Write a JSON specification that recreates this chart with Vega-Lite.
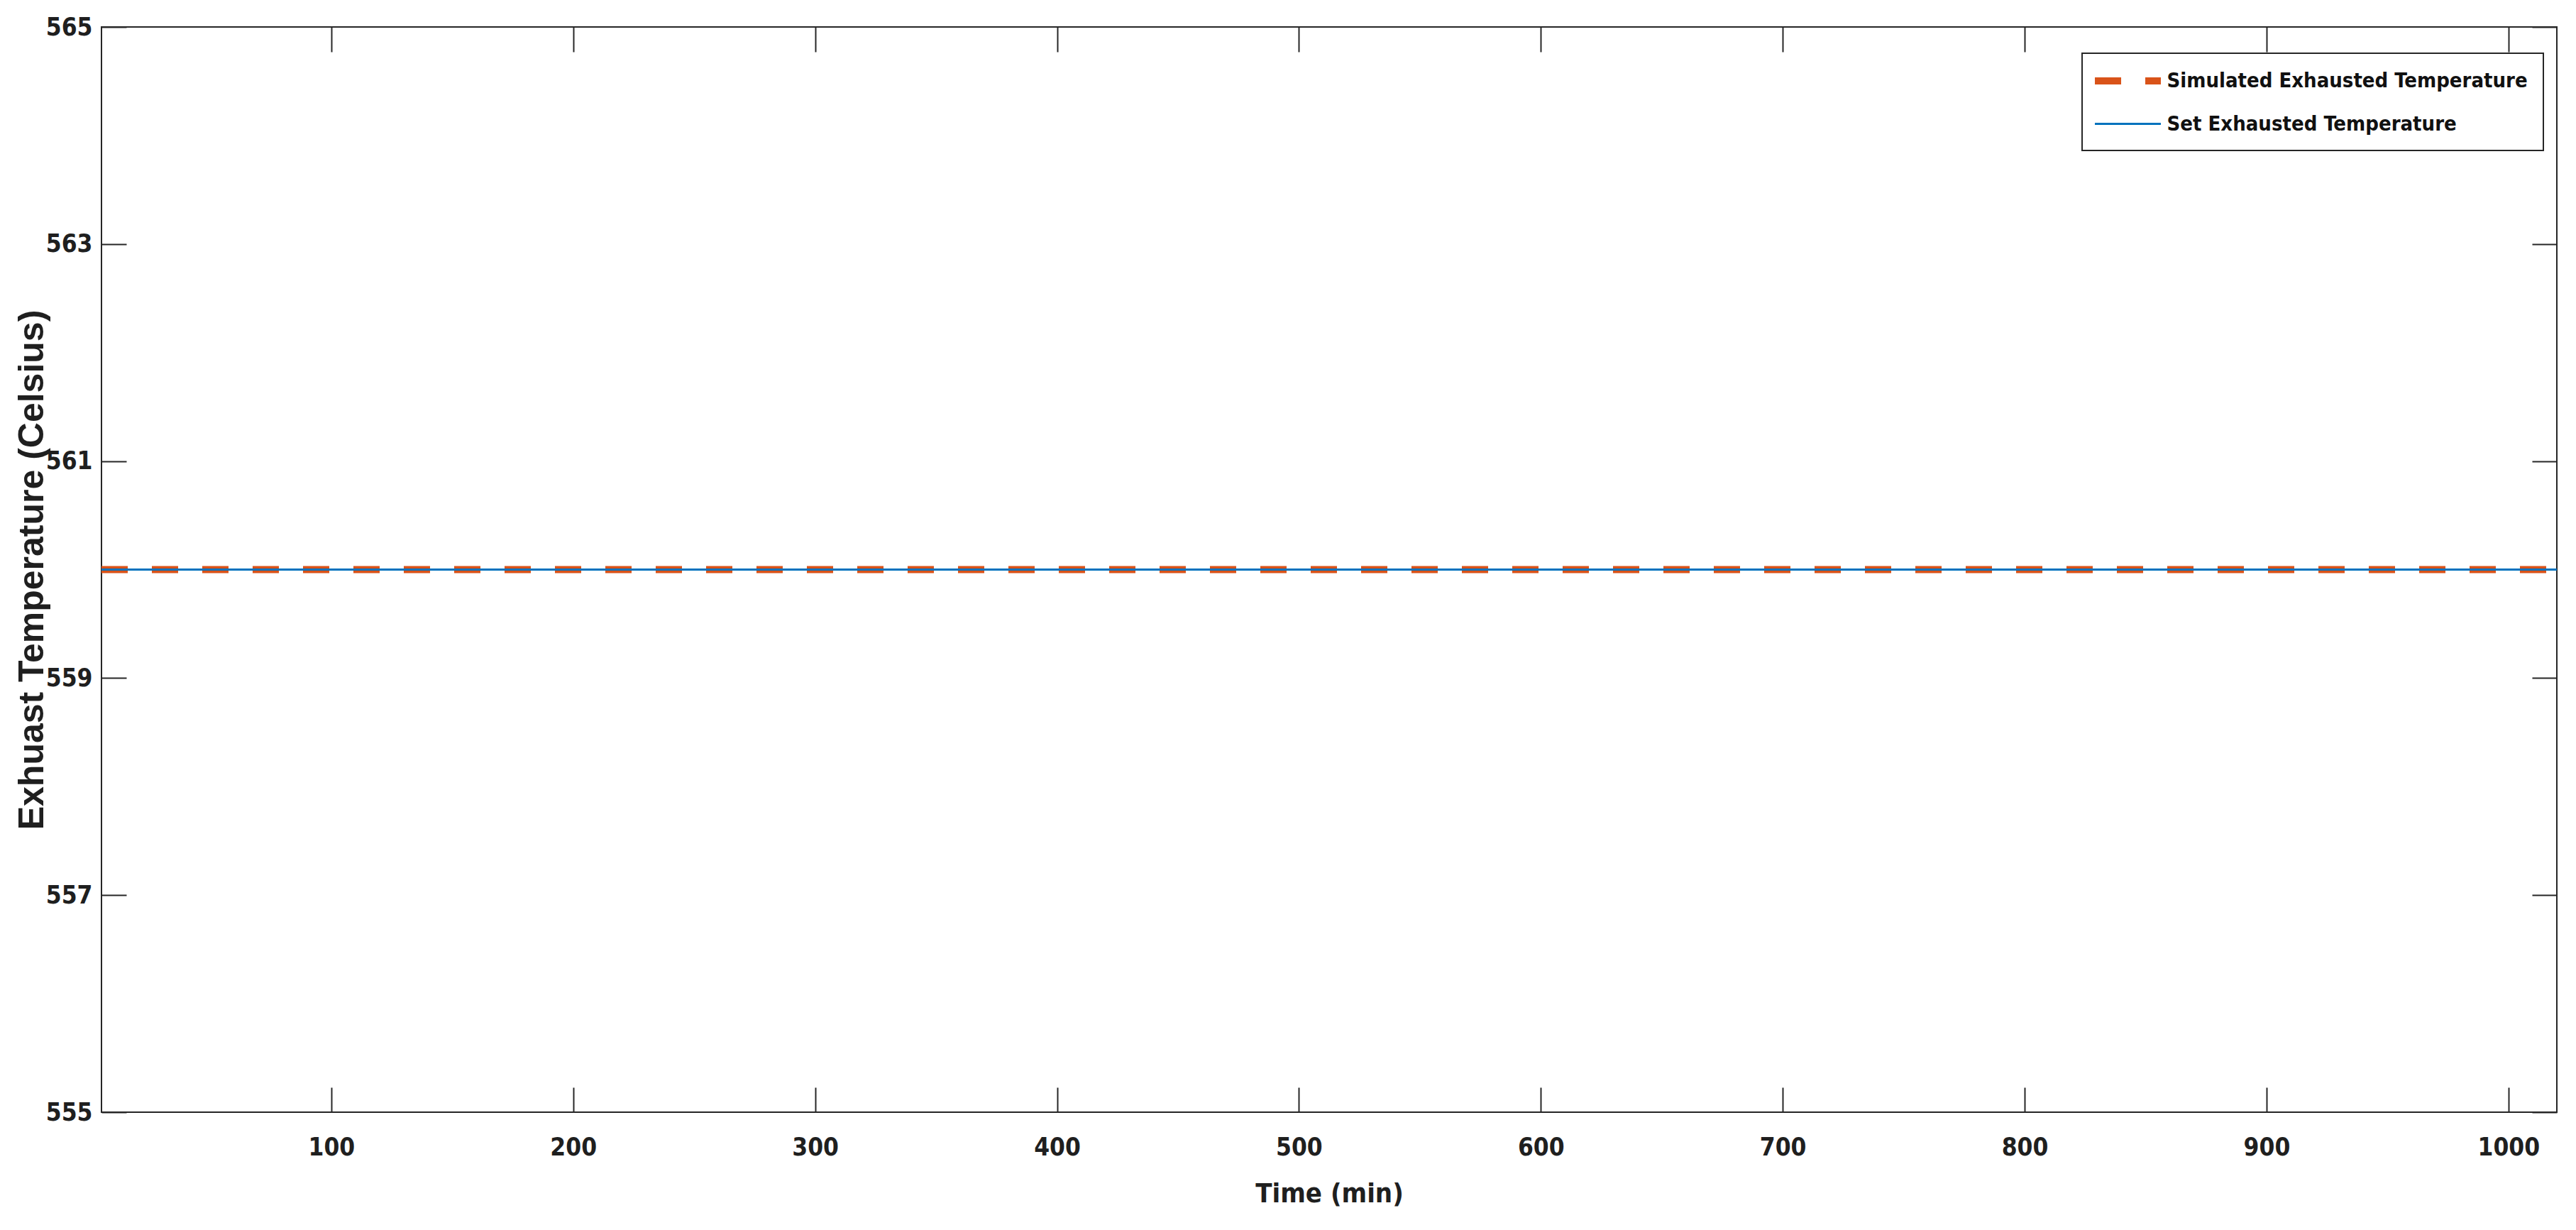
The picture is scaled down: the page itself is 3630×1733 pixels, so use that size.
{
  "$schema": "https://vega.github.io/schema/vega-lite/v6.json",
  "width": 3460,
  "height": 1529,
  "autosize": "none",
  "padding": {"left": 143, "top": 38, "right": 27, "bottom": 166},
  "background": "white",
  "config": {
    "view": {"stroke": "#262626", "strokeWidth": 2},
    "axis": {
      "domain": false,
      "grid": false,
      "labelFont": "DejaVu Sans Condensed",
      "labelFontWeight": "bold",
      "labelFontSize": 35,
      "labelColor": "#1f1f1f",
      "tickColor": "#262626",
      "tickWidth": 2,
      "tickSize": -35,
      "titleColor": "#1f1f1f"
    },
    "legend": {
      "orient": "none",
      "legendX": 2791,
      "legendY": 37,
      "strokeColor": "#262626",
      "strokeWidth": 2,
      "fillColor": "white",
      "padding": 22,
      "symbolType": "M-4,0H4",
      "symbolSize": 540,
      "symbolOffset": 25.5,
      "labelOffset": 38,
      "labelFont": "DejaVu Sans Condensed",
      "labelFontWeight": "bold",
      "labelFontSize": 29,
      "labelColor": "#111111",
      "rowPadding": 26,
      "labelLimit": 0
    }
  },
  "data": {
    "values": [
      {"time": 5, "temp": 560, "series": "Simulated Exhausted Temperature"},
      {"time": 100, "temp": 560, "series": "Simulated Exhausted Temperature"},
      {"time": 200, "temp": 560, "series": "Simulated Exhausted Temperature"},
      {"time": 300, "temp": 560, "series": "Simulated Exhausted Temperature"},
      {"time": 400, "temp": 560, "series": "Simulated Exhausted Temperature"},
      {"time": 500, "temp": 560, "series": "Simulated Exhausted Temperature"},
      {"time": 600, "temp": 560, "series": "Simulated Exhausted Temperature"},
      {"time": 700, "temp": 560, "series": "Simulated Exhausted Temperature"},
      {"time": 800, "temp": 560, "series": "Simulated Exhausted Temperature"},
      {"time": 900, "temp": 560, "series": "Simulated Exhausted Temperature"},
      {"time": 1000, "temp": 560, "series": "Simulated Exhausted Temperature"},
      {"time": 1020, "temp": 560, "series": "Simulated Exhausted Temperature"},
      {"time": 5, "temp": 560, "series": "Set Exhausted Temperature"},
      {"time": 100, "temp": 560, "series": "Set Exhausted Temperature"},
      {"time": 200, "temp": 560, "series": "Set Exhausted Temperature"},
      {"time": 300, "temp": 560, "series": "Set Exhausted Temperature"},
      {"time": 400, "temp": 560, "series": "Set Exhausted Temperature"},
      {"time": 500, "temp": 560, "series": "Set Exhausted Temperature"},
      {"time": 600, "temp": 560, "series": "Set Exhausted Temperature"},
      {"time": 700, "temp": 560, "series": "Set Exhausted Temperature"},
      {"time": 800, "temp": 560, "series": "Set Exhausted Temperature"},
      {"time": 900, "temp": 560, "series": "Set Exhausted Temperature"},
      {"time": 1000, "temp": 560, "series": "Set Exhausted Temperature"},
      {"time": 1020, "temp": 560, "series": "Set Exhausted Temperature"}
    ]
  },
  "layer": [
    {
      "transform": [{"filter": "datum.series === 'Simulated Exhausted Temperature'"}],
      "mark": {"type": "line", "clip": true},
      "encoding": {
        "x": {
          "field": "time", "type": "quantitative",
          "scale": {"domain": [5, 1020], "nice": false, "zero": false},
          "axis": {
            "orient": "bottom",
            "values": [100, 200, 300, 400, 500, 600, 700, 800, 900, 1000],
            "format": "d",
            "labelPadding": 67,
            "title": "Time (min)",
            "titleFont": "DejaVu Sans Condensed",
            "titleFontWeight": "bold",
            "titleFontSize": 38,
            "titlePadding": 29
          }
        },
        "y": {
          "field": "temp", "type": "quantitative",
          "scale": {"domain": [555, 565], "nice": false, "zero": false},
          "axis": {
            "orient": "left",
            "values": [555, 557, 559, 561, 563, 565],
            "format": "d",
            "labelPadding": 48,
            "title": "Exhuast Temperature (Celsius)",
            "titleFont": "Liberation Sans",
            "titleFontWeight": "bold",
            "titleFontSize": 50,
            "titlePadding": -6
          }
        },
        "color": {
          "field": "series", "type": "nominal",
          "scale": {"domain": ["Simulated Exhausted Temperature", "Set Exhausted Temperature"], "range": ["#D95319", "#0072BD"]},
          "legend": {"title": null}
        },
        "strokeDash": {
          "field": "series", "type": "nominal",
          "scale": {"domain": ["Simulated Exhausted Temperature", "Set Exhausted Temperature"], "range": [[37, 34], [1, 0]]},
          "legend": {"title": null}
        },
        "strokeWidth": {
          "field": "series", "type": "nominal",
          "scale": {"domain": ["Simulated Exhausted Temperature", "Set Exhausted Temperature"], "range": [10, 3]},
          "legend": {"title": null}
        }
      }
    },
    {
      "transform": [{"filter": "datum.series === 'Set Exhausted Temperature'"}],
      "mark": {"type": "line", "clip": true},
      "encoding": {
        "x": {
          "field": "time", "type": "quantitative",
          "axis": {
            "orient": "top",
            "values": [100, 200, 300, 400, 500, 600, 700, 800, 900, 1000],
            "labels": false,
            "title": null
          }
        },
        "y": {
          "field": "temp", "type": "quantitative",
          "axis": {
            "orient": "right",
            "values": [555, 557, 559, 561, 563, 565],
            "labels": false,
            "title": null
          }
        },
        "color": {"field": "series", "type": "nominal", "legend": {"title": null}},
        "strokeDash": {"field": "series", "type": "nominal", "legend": {"title": null}},
        "strokeWidth": {"field": "series", "type": "nominal", "legend": {"title": null}}
      }
    }
  ],
  "resolve": {"axis": {"x": "independent", "y": "independent"}}
}
